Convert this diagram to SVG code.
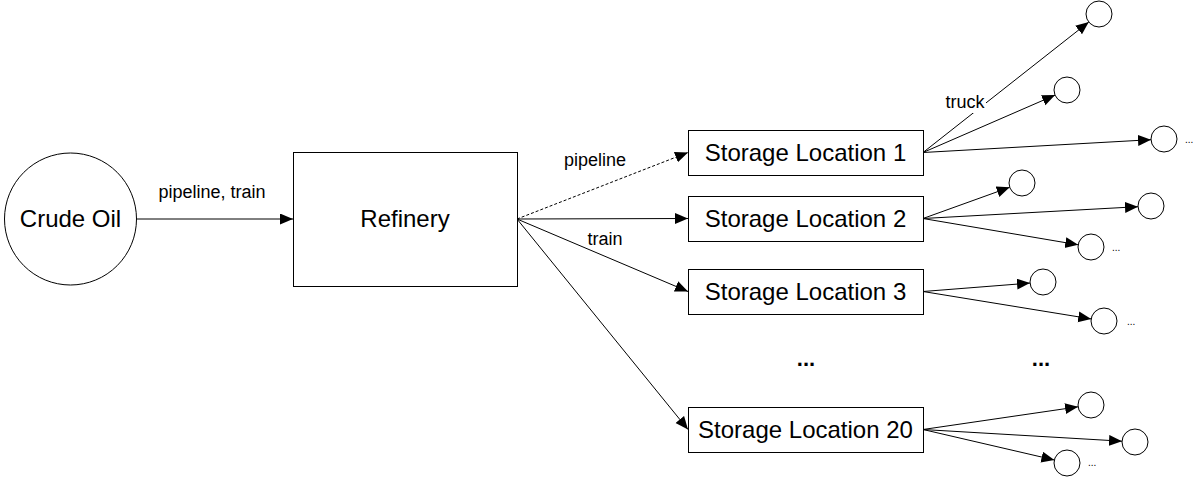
<svg xmlns="http://www.w3.org/2000/svg" width="1197" height="477" viewBox="0 0 1197 477">
  <style>
    .shape { fill: #fff; stroke: #000; stroke-width: 1; }
    .edge { fill: none; stroke: #000; stroke-width: 1; marker-end: url(#arrow); }
    .dashed { stroke-dasharray: 3 2; }
    .big { font-family: "Liberation Sans", Arial, sans-serif; font-size: 24px; fill: #000; text-anchor: middle; }
    .lbl { font-family: "Liberation Sans", Arial, sans-serif; font-size: 18px; fill: #000; text-anchor: middle; }
    .more { font-family: "Liberation Sans", Arial, sans-serif; font-size: 10px; fill: #000; }
    .ellipsis { font-family: "Liberation Sans", Arial, sans-serif; font-size: 22px; font-weight: bold; fill: #000; text-anchor: middle; }
  </style>
  <defs>
    <marker id="arrow" markerUnits="userSpaceOnUse" markerWidth="14" markerHeight="12" refX="13" refY="5.5" orient="auto">
      <path d="M0,0 L13,5.5 L0,11 z" fill="#000"/>
    </marker>
  </defs>

  <rect width="1197" height="477" fill="#fff"/>

  <!-- connectors -->
  <g id="connectors">
    <line class="edge" x1="137" y1="219" x2="293" y2="219"/>
    <line class="edge dashed" x1="517" y1="219" x2="688" y2="152.5"/>
    <line class="edge" x1="517" y1="219" x2="688" y2="218.5"/>
    <line class="edge" x1="517" y1="219" x2="688" y2="291.5"/>
    <line class="edge" x1="517" y1="219" x2="688" y2="429.5"/>

    <line class="edge" x1="923" y1="152.5" x2="1088.8" y2="22"/>
    <line class="edge" x1="923" y1="152.5" x2="1055.1" y2="95.1"/>
    <line class="edge" x1="923" y1="152.5" x2="1151" y2="139.7"/>

    <line class="edge" x1="923" y1="218.5" x2="1009.7" y2="187.3"/>
    <line class="edge" x1="923" y1="218.5" x2="1138" y2="206.7"/>
    <line class="edge" x1="923" y1="218.5" x2="1078.2" y2="244.8"/>

    <line class="edge" x1="923" y1="291.5" x2="1030" y2="283.1"/>
    <line class="edge" x1="923" y1="291.5" x2="1091.2" y2="318.9"/>

    <line class="edge" x1="923" y1="429.5" x2="1078.1" y2="406.8"/>
    <line class="edge" x1="923" y1="429.5" x2="1122" y2="441.2"/>
    <line class="edge" x1="923" y1="429.5" x2="1054.4" y2="460"/>

    <text class="lbl" x="212" y="198">pipeline, train</text>
    <text class="lbl" x="595" y="166">pipeline</text>
    <text class="lbl" x="605" y="245">train</text>
    <rect x="944" y="93" width="42" height="20" fill="#fff"/>
    <text class="lbl" x="965" y="108">truck</text>
  </g>

  <!-- nodes -->
  <g id="crude-oil">
    <circle class="shape" cx="70.5" cy="219" r="66"/>
    <text class="big" x="70.5" y="227">Crude Oil</text>
  </g>
  <g id="refinery">
    <rect class="shape" x="293.5" y="152.5" width="224" height="134"/>
    <text class="big" x="405" y="227">Refinery</text>
  </g>
  <g id="storage-1">
    <rect class="shape" x="688.5" y="130.5" width="235" height="45"/>
    <text class="big" x="805.5" y="161">Storage Location 1</text>
  </g>
  <g id="storage-2">
    <rect class="shape" x="688.5" y="196.5" width="235" height="45"/>
    <text class="big" x="805.5" y="227">Storage Location 2</text>
  </g>
  <g id="storage-3">
    <rect class="shape" x="688.5" y="269.5" width="235" height="45"/>
    <text class="big" x="805.5" y="300">Storage Location 3</text>
  </g>
  <g id="storage-20">
    <rect class="shape" x="688.5" y="407.5" width="235" height="45"/>
    <text class="big" x="805.5" y="438">Storage Location 20</text>
  </g>

  <g id="ellipsis-storage"><text class="ellipsis" x="806" y="366">...</text></g>
  <g id="ellipsis-dest"><text class="ellipsis" x="1041" y="366">...</text></g>

  <!-- delivery points -->
  <g id="dest-1-1"><circle class="shape" cx="1099" cy="14" r="13"/></g>
  <g id="dest-1-2"><circle class="shape" cx="1067" cy="90" r="13"/></g>
  <g id="dest-1-3"><circle class="shape" cx="1164" cy="139" r="13"/><text class="more" x="1185" y="143">...</text></g>

  <g id="dest-2-1"><circle class="shape" cx="1022" cy="183" r="13"/></g>
  <g id="dest-2-2"><circle class="shape" cx="1151" cy="206" r="13"/></g>
  <g id="dest-2-3"><circle class="shape" cx="1091" cy="247" r="13"/><text class="more" x="1112" y="251">...</text></g>

  <g id="dest-3-1"><circle class="shape" cx="1043" cy="282" r="13"/></g>
  <g id="dest-3-2"><circle class="shape" cx="1104" cy="321" r="13"/><text class="more" x="1127" y="325">...</text></g>

  <g id="dest-20-1"><circle class="shape" cx="1091" cy="405" r="13"/></g>
  <g id="dest-20-2"><circle class="shape" cx="1135" cy="442" r="13"/></g>
  <g id="dest-20-3"><circle class="shape" cx="1067" cy="463" r="13"/><text class="more" x="1088" y="466">...</text></g>
</svg>
